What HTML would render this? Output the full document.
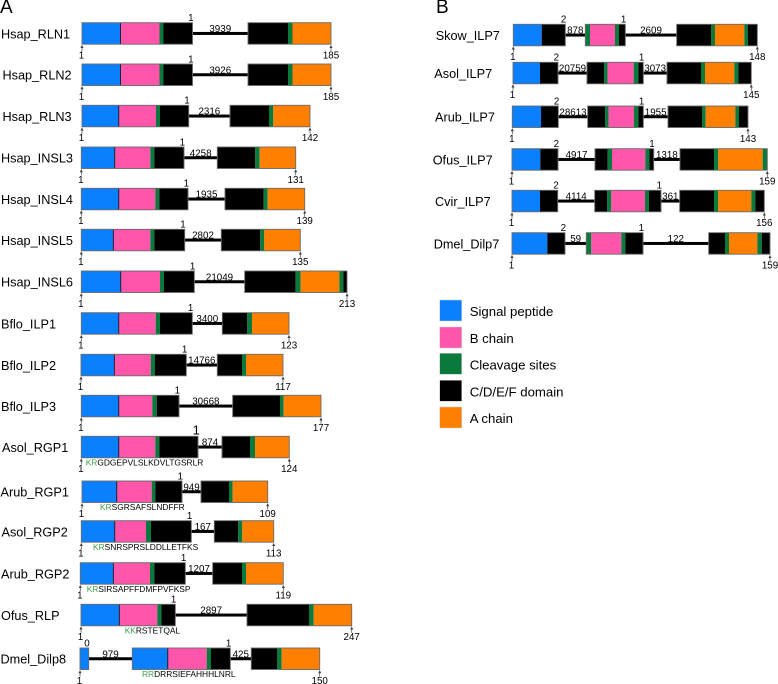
<!DOCTYPE html>
<html lang="en">
<head>
<meta charset="utf-8">
<title>Insulin-like peptide gene structures</title>
<style>
html,body{margin:0;padding:0;background:#fff;}
svg{display:block;font-family:"Liberation Sans",sans-serif;fill:#000;}
</style>
</head>
<body>
<svg id="chart" xmlns="http://www.w3.org/2000/svg" width="778" height="684" viewBox="0 0 778 684">
  <rect x="0" y="0" width="778" height="684" fill="#ffffff"/>
  <text x="0" y="13" font-size="19" fill="#000">A</text>
  <text x="436" y="13" font-size="19" fill="#000">B</text>
  <g id="rows"></g>
  <g id="legend"></g>
</svg>
<script>
// ---- data: gene structures ----
const geneNames = ["Hsap_RLN1","Hsap_RLN2","Hsap_RLN3","Hsap_INSL3","Hsap_INSL4","Hsap_INSL5","Hsap_INSL6","Bflo_ILP1","Bflo_ILP2","Bflo_ILP3","Asol_RGP1","Arub_RGP1","Asol_RGP2","Arub_RGP2","Ofus_RLP","Dmel_Dilp8","Skow_ILP7","Asol_ILP7","Arub_ILP7","Ofus_ILP7","Cvir_ILP7","Dmel_Dilp7"];
// S signal, B B chain, C cleavage, D C/D/E/F domain, A A chain, I intron
const segmentKinds = ["SBCDIDCA","SBCDIDCA","SBCDIDCA","SBCDIDCA","SBCDIDCA","SBCDIDCA","SBCDIDCACD","SBCDIDCA","SBCDIDCA","SBCDIDCA","SBCDIDCA","SBCDIDCA","SBCDIDCA","SBCDIDCA","SBCDIDCA","SISBCDIDCA","SDICBCDIDCACD","SDIDCBCDIDCACD","SDIDCBCDIDCACD","SDIDCBCDIDCAC","SDIDCBCDIDCACD","SDICBCDIDCACD"];
const segmentLengths = [
  [38.5,39,4,29,55.5,40,4.5,38.5],
  [38.5,39,4,29,55.5,40,4.5,38.5],
  [36.7,37.3,4,28.7,41.3,39,4.3,36.7],
  [33.4,35.6,4,29.7,33.3,38,4.4,36],
  [37.4,36.6,4,28.7,37,38.7,4,37],
  [32,37,4,30.4,36.6,39,4,36],
  [39.4,39.3,4,30.3,50.4,51,5,38.6,4,3.7],
  [37.4,37,4.3,32.3,30,25,4.7,37],
  [33.3,36.4,4.3,31.3,31,24.7,4,37],
  [37.4,33.6,4.4,22.3,53.7,47.3,3.7,37.3],
  [37.4,36.6,4,38.7,24,28,5,34.3],
  [34.7,35,3.6,26.7,19,28,3.7,35],
  [33.4,31.3,5,40.3,23,24,4,31.4],
  [33,36.7,4.3,31,27.4,29.3,4,37.3],
  [38.3,38,4,14,71.7,62,4.7,38],
  [8.7,43.6,35.4,39,4.3,19.3,21,25.7,4.7,38],
  [28.4,23.6,20,4.7,25,4,6.3,51.4,34.3,4,29.3,3.7,9.3],
  [27,18,29,17.3,3.4,26,4.6,5,23.7,34,4,29.3,4,13],
  [28.7,17.3,29.4,17.6,3.4,25.3,4.3,5,24.7,34,3.7,29.6,3.7,9],
  [28.3,17.7,37,12.7,4.3,33.3,4,4.4,26.3,34,4.3,44.4,4.6],
  [28,17.7,37,12.6,4,33.7,4,12,18.7,34.3,4.3,33,4,9],
  [35.3,17.7,21.3,5,30,4,17.7,65.7,16.3,4,28.3,4.4,8.3]
];
const intronSizes = [[3939],[3926],[2316],[4258],[1935],[2802],[21049],[3400],[14766],[30668],[874],[949],[167],[1207],[2897],[979,425],[878,2609],[20759,3073],[28613,1955],[4917,1318],[4114,361],[59,122]];
const intronPhases = [[1],[1],[1],[1],[1],[1],[1],[1],[1],[1],[1],[1],[1],[1],[1],[0,1],[2,1],[2,1],[2,1],[2,1],[2,1],[2,1]];
const proteinLengths = [185,185,142,131,139,135,213,123,117,177,124,109,113,119,247,150,148,145,143,159,156,159];
const peptideGenes = ["Asol_RGP1","Arub_RGP1","Asol_RGP2","Arub_RGP2","Ofus_RLP","Dmel_Dilp8"];
const peptideSites = ["KR","KR","KR","KR","KK","RR"];
const peptideTails = ["GDGEPVLSLKDVLTGSRLR","SGRSAFSLNDFFR","SNRSPRSLDDLLETFKS","SIRSAPFFDMFPVFKSP","RSTETQAL","DRRSIEFAHHHLNRL"];
const legendLabels = ["Signal peptide","B chain","Cleavage sites","C/D/E/F domain","A chain"];
const legendKinds = ["S","B","C","D","A"];

// ---- layout (not data) ----
const LAYOUT = {
  tops: [22.7,64,105.3,147,188.3,229.3,271,312.7,354.3,395.3,436.3,481,520.7,562.7,604.3,648,24.3,62.3,106,148.7,190.3,232.7],
  lefts: [82,82,82,81.3,81.3,81.3,81.3,81.3,81,81.3,81.3,82,81.3,80.3,81,80,513.3,513,512.3,512,512,512],
  nameLefts: [1,2.5,2.5,1,1,1,1,1,1,1,2,0.5,1.5,1,1,0.5,435.7,434.3,435,432.7,435,433.7],
  seqLefts: [85.7,100,93,86.7,124.7,142],
  legendTops: [300,327,353.3,380.3,407],
  rowHeight: 21.5
};
const COLORS = {S:"#0a80ff",B:"#ff55aa",C:"#0a7a3c",D:"#000000",A:"#ff8000"};
const NAMES = {S:"signal-peptide",B:"b-chain",C:"cleavage-site",D:"cd-domain",A:"a-chain"};
const SVGNS = "http://www.w3.org/2000/svg";
const unitScale = 1;
const xAxis = (left, units) => left + units * unitScale;

function make(tag, parent, attrs, txt){
  const el = document.createElementNS(SVGNS, tag);
  for (const k in attrs) el.setAttribute(k, attrs[k]);
  if (txt !== undefined) el.textContent = txt;
  parent.appendChild(el);
  return el;
}

const rowsRoot = document.getElementById("rows");

geneNames.forEach((name, i) => {
  const top = LAYOUT.tops[i], left = LAYOUT.lefts[i], h = LAYOUT.rowHeight;
  const bottom = top + h, mid = top + h / 2;
  const slug = name.toLowerCase().replace(/_/g, "-");

  const row = make("g", rowsRoot, {});
  
  

  const label = make("text", row, {x: LAYOUT.nameLefts[i], y: mid + 4.8, "font-size": 12.7, fill: "#000"}, name);
  
  

  const kinds = segmentKinds[i], lens = segmentLengths[i];
  let cum = 0, exonStart = 0, intronIdx = 0;
  const outlines = [];
  const texts = [];

  for (let s = 0; s < lens.length; s++) {
    const k = kinds[s];
    const x0 = xAxis(left, cum), x1 = xAxis(left, cum + lens[s]);
    if (k === "I") {
      outlines.push([exonStart, cum]);
      const line = make("rect", row, {x: x0, y: mid - 1.5, width: x1 - x0, height: 3, fill: "#000"});
      
      
      texts.push({cx: (x0 + x1) / 2, start: x0, size: intronSizes[i][intronIdx], phase: intronPhases[i][intronIdx]});
      intronIdx++;
      exonStart = cum + lens[s];
    } else {
      const seg = make("rect", row, {x: x0, y: top, width: x1 - x0, height: h, fill: COLORS[k]});
      
      
      if (k === "B" && kinds[s - 1] === "S") {
        const div = make("rect", row, {x: x0 - 0.4, y: top, width: 0.9, height: h, fill: "#1a1a1a"});
        
        
      }
    }
    cum += lens[s];
  }
  outlines.push([exonStart, cum]);

  outlines.forEach(o => {
    const box = make("rect", row, {x: xAxis(left, o[0]), y: top, width: xAxis(left, o[1]) - xAxis(left, o[0]), height: h, fill: "none", stroke: "#6a6a6a", "stroke-width": 0.9});
    
    
  });

  texts.forEach(t => {
    const size = make("text", row, {x: t.cx, y: top + 9.4, "font-size": 9.8, "text-anchor": "middle", fill: "#000"}, t.size);
    
    

    const big = name === "Asol_RGP1";
    const phase = make("text", row, {x: t.start - 1.7, y: big ? top - 2 : top - 1.6, "font-size": big ? 13 : 9.8, "text-anchor": "middle", fill: "#000"}, t.phase);
    
    
  });

  // start / end residue ticks and labels
  const xEnd = xAxis(left, cum);
  [[left, 1, 'start'], [xEnd, proteinLengths[i], 'end']].forEach(p => {
    const tick = make("path", row, {d: "M" + p[0] + " " + (bottom + 7) + "V" + (bottom + 3) + "M" + (p[0] - 1) + " " + (bottom + 3.4) + "L" + p[0] + " " + (bottom + 1.4) + "L" + (p[0] + 1) + " " + (bottom + 3.4) + "Z", stroke: "#444", "stroke-width": 0.7, fill: "#444"});
    
    

    const lab = make("text", row, {x: p[2] === 'start' ? p[0] - 0.5 : p[0], y: bottom + 14.4, "font-size": 9.8, "text-anchor": "middle", fill: "#000"}, p[1]);
    
    
  });

  // peptide sequence under the C domain
  const pi = peptideGenes.indexOf(name);
  if (pi >= 0) {
    const seq = make("text", row, {x: LAYOUT.seqLefts[pi], y: bottom + 7.6, "font-size": 8.4, fill: "#000"});
    
    
    make("tspan", seq, {fill: "#3ca04a"}, peptideSites[pi]);
    make("tspan", seq, {}, peptideTails[pi]);
  }
});

// legend
const legendRoot = document.getElementById("legend");
legendLabels.forEach((lab, i) => {
  const top = LAYOUT.legendTops[i];
  const entry = make("g", legendRoot, {});
  
  

  const sw = make("rect", entry, {x: 439.7, y: top, width: 22, height: 21, fill: COLORS[legendKinds[i]], stroke: "#cfcfcf", "stroke-width": 0.5});
  
  

  const tx = make("text", entry, {x: 469.7, y: top + 16, "font-size": 13.2, fill: "#000"}, lab);
  
  
});
</script>
</body>
</html>
